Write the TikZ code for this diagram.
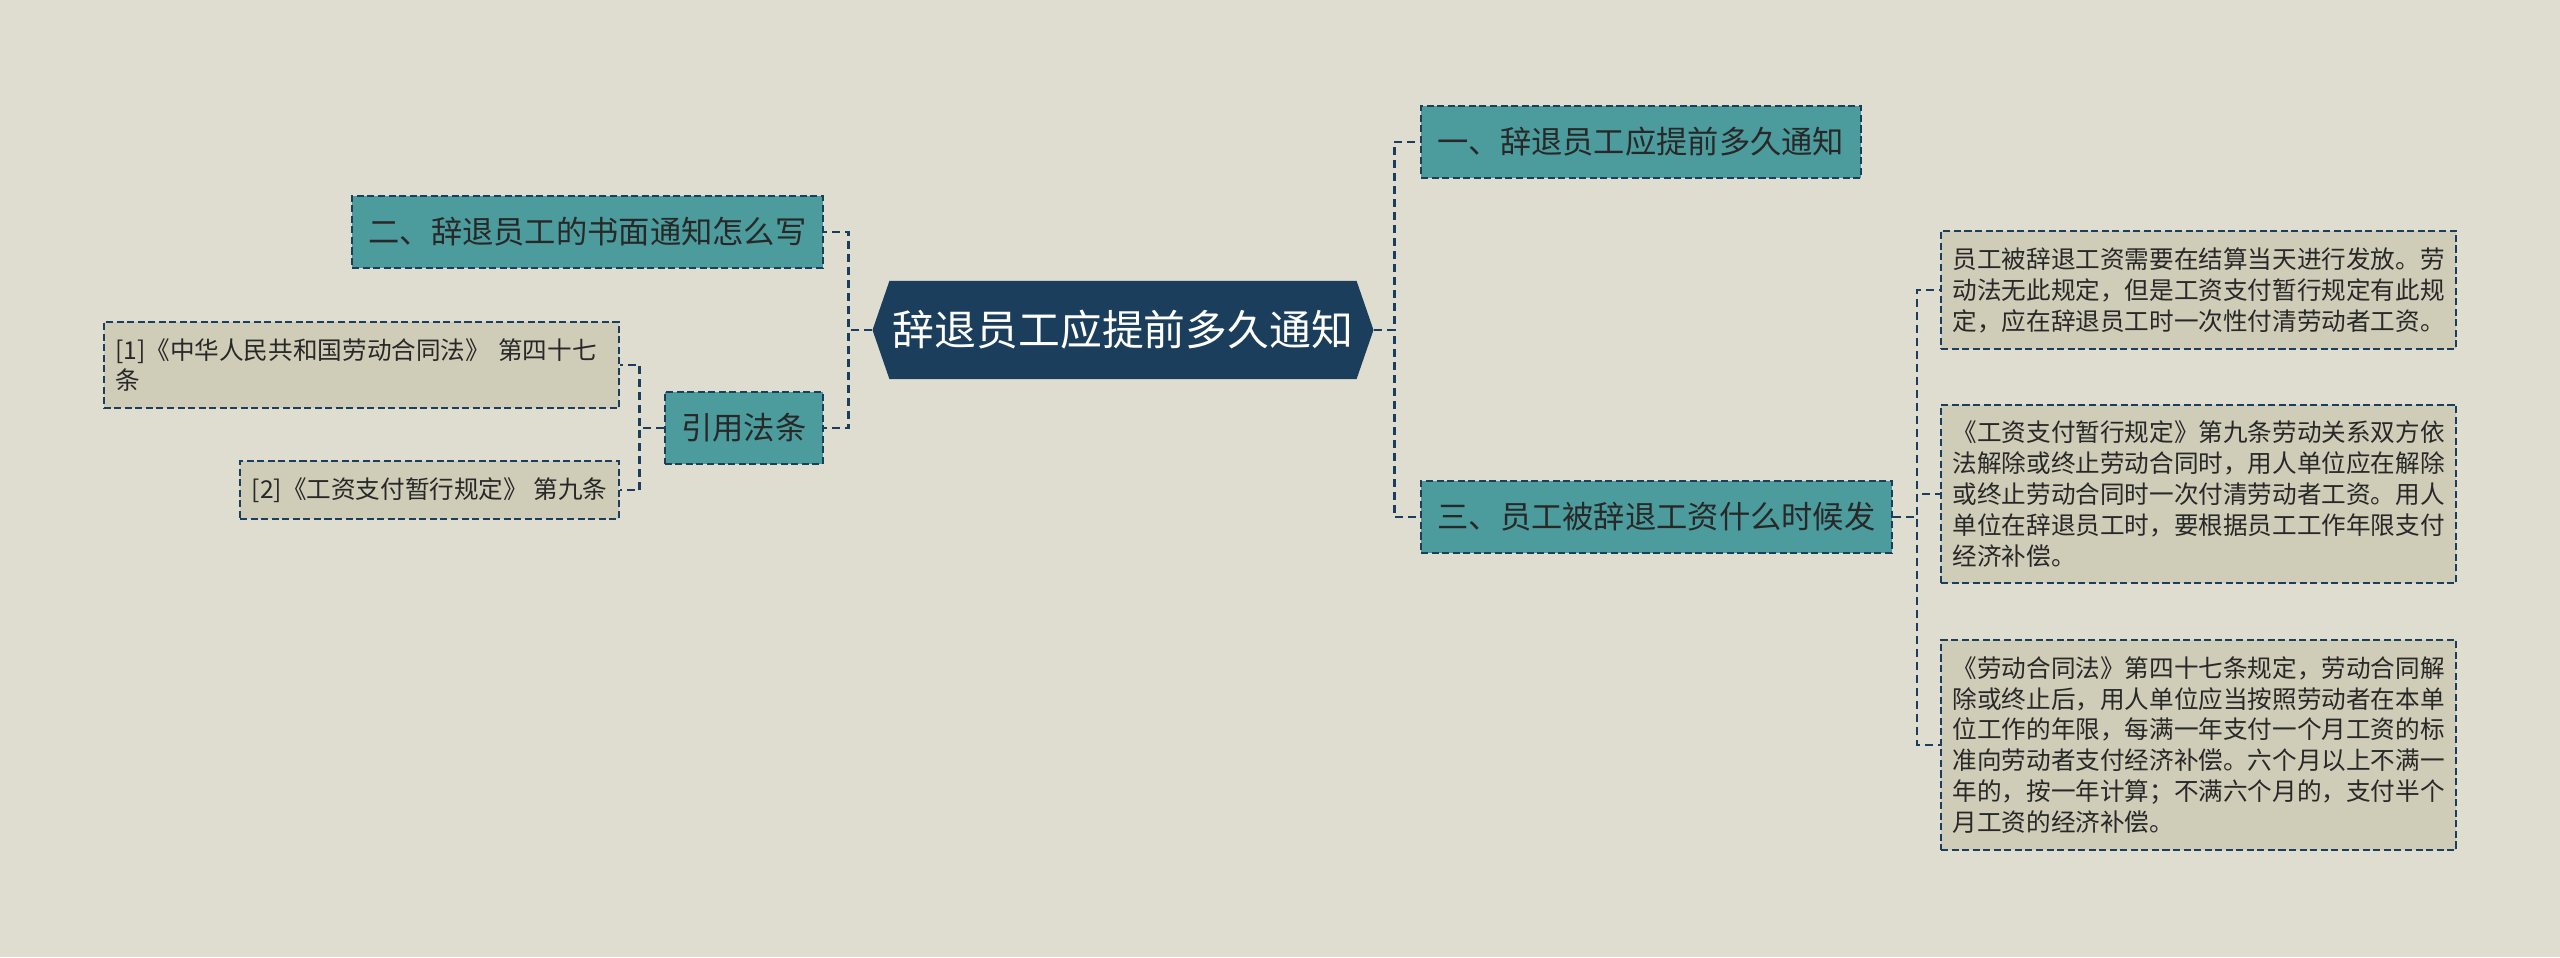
\documentclass[tikz,border=0pt]{standalone}
\usepackage{fontspec}
\setmainfont{Noto Sans CJK SC}
\usetikzlibrary{shapes.symbols}
\definecolor{bgcolor}{RGB}{223,221,207}
\definecolor{navy}{RGB}{26,62,92}
\definecolor{topicfill}{RGB}{76,156,157}
\definecolor{notefill}{RGB}{207,204,184}
\definecolor{inktext}{RGB}{40,40,40}
\begin{document}
\begin{tikzpicture}[
    rootbox/.style={signal, signal to=east and west, signal pointer angle=142,
        fill=navy, text=white, font=\fontsize{11.9pt}{14pt}\selectfont,
        minimum height=28pt, inner xsep=1pt},
    topic/.style={draw=navy, line width=0.6pt, dash pattern=on 2pt off 1pt,
        fill=topicfill, text=inktext, font=\fontsize{8.9pt}{10pt}\selectfont,
        minimum height=20.4pt, inner xsep=4.7pt},
    note/.style={draw=navy, line width=0.6pt, dash pattern=on 2pt off 1pt,
        fill=notefill, text=inktext, font=\fontsize{7pt}{8.8pt}\selectfont,
        align=left, inner xsep=3.3pt, inner ysep=4.6pt},
    wide/.style={text width=140pt},
    link/.style={draw=navy, line width=0.75pt, dash pattern=on 2.2pt off 1.5pt}
]
    \fill[bgcolor] (0,0) rectangle (25.6,9.57);
    \useasboundingbox (0,0) rectangle (25.6,9.57);

    % Nodes
    \node[rootbox] (root) at (11.23,6.27) {辞退员工应提前多久通知};

    \node[topic, anchor=west] (q1) at (14.20,8.15) {一、辞退员工应提前多久通知};
    \node[topic, anchor=west] (q3) at (14.20,4.40) {三、员工被辞退工资什么时候发};
    \node[topic, anchor=east] (q2) at (8.24,7.25) {二、辞退员工的书面通知怎么写};
    \node[topic, anchor=east] (law) at (8.24,5.29) {引用法条};

    \node[note, wide, anchor=east] (ref1) at (6.20,5.92) {[1]《中华人民共和国劳动合同法》 第四十七\\条};
    \node[note, anchor=east] (ref2) at (6.20,4.67) {[2]《工资支付暂行规定》 第九条};

    \node[note, wide, anchor=west] (ans1) at (19.40,6.67) {员工被辞退工资需要在结算当天进行发放。劳\\动法无此规定，但是工资支付暂行规定有此规\\定，应在辞退员工时一次性付清劳动者工资。};
    \node[note, wide, anchor=west] (ans2) at (19.40,4.63) {《工资支付暂行规定》第九条劳动关系双方依\\法解除或终止劳动合同时，用人单位应在解除\\或终止劳动合同时一次付清劳动者工资。用人\\单位在辞退员工时，要根据员工工作年限支付\\经济补偿。};
    \node[note, wide, anchor=west] (ans3) at (19.40,2.12) {《劳动合同法》第四十七条规定，劳动合同解\\除或终止后，用人单位应当按照劳动者在本单\\位工作的年限，每满一年支付一个月工资的标\\准向劳动者支付经济补偿。六个月以上不满一\\年的，按一年计算；不满六个月的，支付半个\\月工资的经济补偿。};

    % Edges
    \draw[link] (root.east) -- ++(0.2,0) |- (q1.west);
    \draw[link] (root.east) -- ++(0.2,0) |- (q3.west);
    \draw[link] (root.west) -- ++(-0.23,0) |- (q2.east);
    \draw[link] (root.west) -- ++(-0.23,0) |- (law.east);

    \draw[link] (law.west) -- ++(-0.24,0) |- (ref1.east);
    \draw[link] (law.west) -- ++(-0.24,0) |- (ref2.east);

    \draw[link] (q3.east) -- ++(0.24,0) |- (ans1.west);
    \draw[link] (q3.east) -- ++(0.24,0) |- (ans2.west);
    \draw[link] (q3.east) -- ++(0.24,0) |- (ans3.west);
\end{tikzpicture}
\end{document}
